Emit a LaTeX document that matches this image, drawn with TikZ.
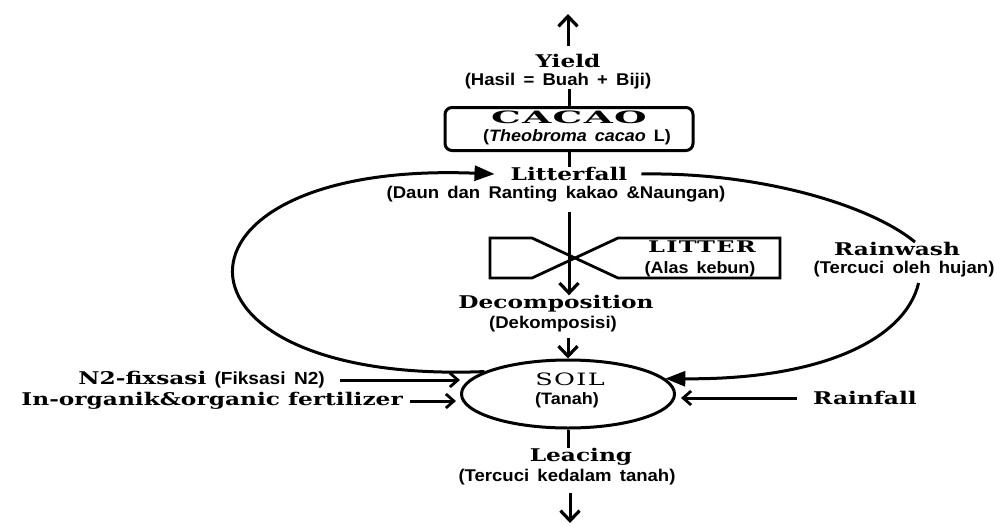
\documentclass[tikz,border=0pt]{standalone}
\usepackage{fontspec}
\setmainfont{Liberation Serif}
\newfontfamily\hdfont{DejaVu Serif}[FakeStretch=1.33]
\newfontfamily\sbfont{Liberation Sans}[FakeStretch=1.09,WordSpace=1.6]
\newfontfamily\srfont{DejaVu Serif}[FakeStretch=1.5,LetterSpace=8]
\newfontfamily\cacfont{DejaVu Serif}[FakeStretch=2.2,LetterSpace=8]
\usetikzlibrary{arrows.meta,shapes.geometric}
\begin{document}
\begin{tikzpicture}[x=1pt,y=-1pt,
  hd/.style={font=\hdfont\bfseries\fontsize{17.5}{17.5}\selectfont, inner sep=0pt},
  sb/.style={font=\sbfont\bfseries\fontsize{17}{17}\selectfont, inner sep=0pt},
  sbs/.style={font=\sbfont\bfseries\fontsize{16.5}{16.5}\selectfont, inner sep=0pt},
  ln/.style={line width=3pt},
  barb/.style={ln, -{Straight Barb[length=10pt,width=19pt,line width=3.2pt]}},
  sbarb/.style={ln, -{Straight Barb[length=8pt,width=14pt,line width=2.8pt]}},
  tri/.style={ln, -{Triangle[length=20pt,width=15pt]}},
]
\useasboundingbox (0,0) rectangle (995,525);
% nodes
\node[hd] (yield) at (568,61) {Yield};
\node[sb] (hasil) at (558,81) {(Hasil = Buah + Biji)};
\node[draw, ln, rounded corners=7pt, minimum width=248pt, minimum height=43pt, inner sep=0pt] (cacao) at (569,129) {};
\node[font=\cacfont\bfseries\fontsize{17}{17}\selectfont, inner sep=0pt] (cacaot) at (569,117) {CACAO};
\node[sbs] (theo) at (577,137) {(\textit{Theobroma cacao} L)};
\node[hd] (litter) at (569,174) {Litterfall};
\node[sb] (litsub) at (556,194) {(Daun dan Ranting kakao \&Naungan)};
\node[font=\srfont\bfseries\fontsize{16}{16}\selectfont, inner sep=0pt] (littx) at (702,247) {LITTER};
\node[sbs] (alas) at (700,269) {(Alas kebun)};
\node[hd] (rainw) at (897,249) {Rainwash};
\node[sb] (rwsub) at (904,269) {(Tercuci oleh hujan)};
\node[hd] (decomp) at (556,304) {Decomposition};
\node[sb] (decsub) at (553,324) {(Dekomposisi)};
\node[draw, ln, ellipse, minimum width=213pt, minimum height=68pt, inner sep=0pt] (soil) at (568,394) {};
\node[font=\srfont\fontsize{17}{17}\selectfont, inner sep=0pt] (soilt) at (570,379) {SOIL};
\node[sbs] (tanah) at (567,400) {(Tanah)};
\node[hd] (leac) at (581,457) {Leacing};
\node[sb] (leasub) at (567,477) {(Tercuci kedalam tanah)};
\node[hd, anchor=east] (n2) at (325,380) {N2-fixsasi {\sbfont(Fiksasi N2)}};
\node[hd, anchor=east] (fert) at (403,401) {In-organik\&organic fertilizer};
\node[hd, anchor=west] (rainf) at (813,398) {Rainfall};
% litter bowtie
\draw[line width=2.8pt, line join=miter] (532,238) -- (490,238) -- (490,278) -- (532,278) -- (618,238) -- (780,238) -- (780,278) -- (618,278) -- cycle;
% connectors
\coordinate (topend) at (568,14);
\coordinate (botend) at (570,523);
\draw[barb, shorten <=8pt] (topend |- yield.north) -- (topend);
\draw[ln] (cacao.north |- hasil.south) -- (cacao.north);
\draw[ln] (cacao.south) -- (cacao.south |- litter.north);
\draw[barb, shorten <=10pt] (litter |- litsub.south) -- (litter |- decomp.north);
\draw[barb, shorten <=6pt] (soil.north |- decsub.south) -- (soil.north);
\draw[ln] (soil.south) -- (soil.south |- leac.north);
\draw[barb, shorten <=8pt] (botend |- leasub.south) -- (botend);
\draw[tri] (soil.165) .. controls (150,385) and (150,160) .. ([xshift=-16pt]litter.west);
\draw[ln] ([xshift=14pt]litter.east) .. controls (760,172) and (870,205) .. ([xshift=18pt]rainw.north);
\draw[tri, shorten <=6pt] ([xshift=16pt]rwsub.south) .. controls (905,340) and (820,380) .. (soil.9);
\draw[sbarb] ([xshift=15pt]n2.east) -- (n2.east -| soil.west);
\draw[sbarb, shorten >=4pt] ([xshift=7pt]fert.east) -- (fert.east -| soil.west);
\draw[sbarb, shorten >=5pt] ([xshift=-16pt]rainf.west) -- (rainf.west -| soil.east);
\end{tikzpicture}
\end{document}
